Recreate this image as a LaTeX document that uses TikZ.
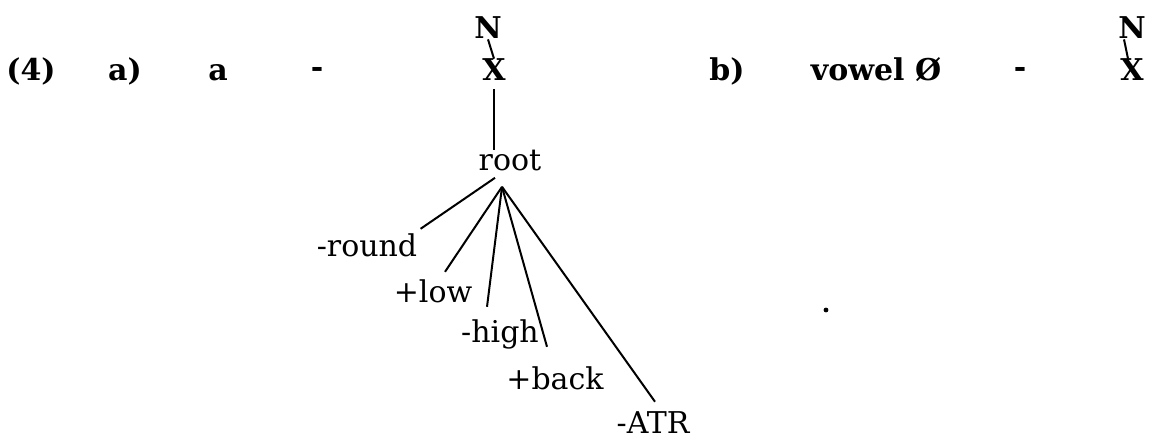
\documentclass[tikz,border=0pt]{standalone}
\usepackage{fontspec}
\setmainfont{DejaVu Serif}
\usepackage{tikz}

\begin{document}
\begin{tikzpicture}[x=0.5pt, y=-0.5pt,
		every node/.style={inner sep=0pt, anchor=base},
		hd/.style={font=\bfseries\fontsize{15}{18}\selectfont},
		ft/.style={font=\fontsize{15}{18}\selectfont},
		ln/.style={line width=1pt}]
	\useasboundingbox (0,0) rectangle (1155,442);
	
	% Kopfzeile a)
	\node[hd] (num) at (31,81) {(4)};
	\node[hd] (la) at (125,81) {a)};
	\node[hd] (sega) at (218,81) {a};
	\node[hd] (dasha) at (317,78) {-};
	
	% Baum a)
	\node[hd] (Na) at (488,39) {N};
	\node[hd] (Xa) at (494,81) {X};
	\node[ft] (root) at (510,171) {root};
	\draw[ln] (Na.south) -- (Xa.north);
	\draw[ln, shorten <=4pt] (Xa.south) -- (Xa.south |- root.north);
	
	% Merkmale
	\coordinate (hub) at ([shift={(-8,15)}]root.south);
	\node[ft] (round) at (367,257) {-round};
	\node[ft] (low) at (433,303) {+low};
	\node[ft] (high) at (500,343) {-high};
	\node[ft] (back) at (555,390) {+back};
	\node[ft] (atr) at (653,434) {-ATR};
	\draw[ln] ([shift={(-7,-9)}]hub) -- ([shift={(3,-5)}]round.north east);
	\draw[ln] (hub) -- ([shift={(12,-8)}]low.north);
	\draw[ln] (hub) -- ([shift={(-13,-13)}]high.north);
	\draw[ln] (hub) -- ([shift={(-8,-20)}]back.north);
	\draw[ln] (hub) -- ([shift={(2,-10)}]atr.north);
	
	% Kopfzeile b)
	\node[hd] (lb) at (727,81) {b)};
	\node[hd] (vow) at (876,81) {vowel Ø};
	\node[hd] (dashb) at (1020,78) {-};
	\node[hd] (Nb) at (1132,39) {N};
	\node[hd] (Xb) at (1132,81) {X};
	\draw[ln] ([xshift=-4pt]Nb.south) -- ([xshift=-2pt]Xb.north);
	
	\fill (826,310) circle (1.2pt);
\end{tikzpicture}
\end{document}
